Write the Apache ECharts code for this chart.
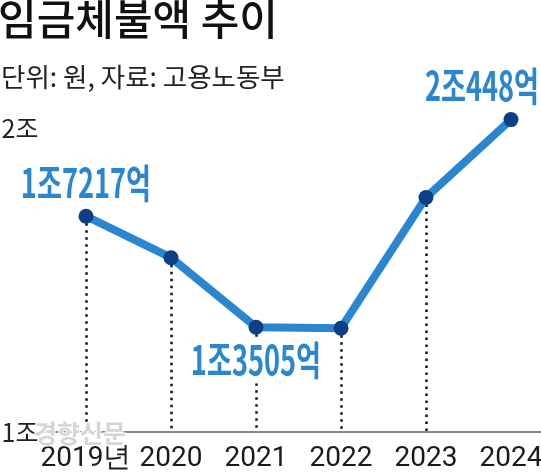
<!DOCTYPE html>
<html>
<head>
<meta charset="utf-8">
<script src="https://cdn.jsdelivr.net/npm/echarts@6/dist/echarts.min.js"></script>
<style>
html,body{margin:0;padding:0;background:#fff;}
#c{width:541px;height:474px;}
</style>
</head>
<body>
<div id="c"></div>
<script>
const years = ['2019', '2020', '2021', '2022', '2023', '2024'];
const xLabels = ['2019년', '2020', '2021', '2022', '2023', '2024'];
const values = [1.7217, 1.583, 1.3505, 1.3472, 1.7845, 2.0448];
const valueLabels = ['1조7217억', '', '1조3505억', '', '', '2조448억'];
const yTickLabels = { 1: '1조', 2: '2조' };

const BLUE = '#2a87cf';
const NAVY = '#0c3f86';
const labelPlacement = { 0: [0, -33], 2: [0, 33], 5: [-29, -34] };

const chart = echarts.init(document.getElementById('c'), null, { renderer: 'canvas' });

const labelData = [];
values.forEach((v, i) => { if (valueLabels[i]) labelData.push([i, v, i]); });

const option = {
  animation: false,
  backgroundColor: '#fff',
  title: [
    {
      text: '임금체불액 추이', left: -2, top: -2, padding: 0,
      textStyle: { fontSize: 42, fontWeight: 500, color: '#111', fontFamily: 'Noto Sans CJK KR' }
    },
    {
      text: '단위: 원, 자료: 고용노동부', left: 1, top: 64, padding: 0,
      textStyle: { fontSize: 26.5, fontWeight: 'normal', color: '#222', fontFamily: 'Noto Sans CJK KR' }
    }
  ],
  grid: { left: 43.5, width: 510, top: 133, bottom: 42, containLabel: false, outerBoundsMode: 'none' },
  xAxis: {
    type: 'category',
    data: xLabels,
    boundaryGap: true,
    axisLine: { lineStyle: { color: '#8a8a8a', width: 2 } },
    axisTick: { show: false },
    axisLabel: { interval: 0, margin: 13, fontSize: 28, color: '#1a1a1a', fontFamily: 'Roboto' },
    splitLine: { show: false }
  },
  yAxis: {
    type: 'value', min: 1, max: 2, interval: 1,
    axisLine: { show: false }, axisTick: { show: false }, splitLine: { show: false },
    axisLabel: {
      formatter: v => v === 2 ? '{top|' + yTickLabels[v] + '}' : (yTickLabels[v] || ''),
      align: 'left', margin: 42,
      fontSize: 25, color: '#222', fontFamily: 'Noto Sans CJK KR',
      rich: { top: { fontSize: 25, color: '#222', fontFamily: 'Noto Sans CJK KR', padding: [0, 0, 10, 0] } }
    }
  },
  graphic: [
    {
      type: 'text', left: 33, top: 420, z: 100,
      style: { text: '경향신문', fontSize: 25, fontWeight: 'bold', fontFamily: 'Noto Sans CJK KR',
               fill: '#d6d6d6', stroke: '#fff', lineWidth: 2 }
    }
  ],
  series: [
    {
      type: 'line',
      data: values,
      z: 2,
      clip: false,
      lineStyle: { color: BLUE, width: 8, join: 'round' },
      symbol: 'circle', symbolSize: 15,
      itemStyle: { color: NAVY },
      label: { show: false },
      markLine: {
        z: 1,
        silent: true,
        symbol: ['none', 'none'],
        label: { show: false },
        lineStyle: { color: '#111', width: 2.5, type: [2.5, 4.5] },
        data: values.map((v, i) => [{ coord: [i, v] }, { coord: [i, 1] }])
      }
    },
    {
      type: 'custom',
      z: 1,
      clip: false,
      data: labelData,
      renderItem: function (params, api) {
        const idx = api.value(2);
        const pt = api.coord([api.value(0), api.value(1)]);
        const off = labelPlacement[idx] || [0, -33];
        return {
          type: 'text',
          x: pt[0] + off[0],
          y: pt[1] + off[1],
          scaleX: 0.68,
          z2: 10,
          style: {
            text: valueLabels[idx],
            fontSize: 40,
            fontWeight: 'bold',
            fontFamily: 'Noto Sans CJK KR',
            fill: BLUE,
            align: 'center',
            verticalAlign: 'middle',
            backgroundColor: off[1] > 0 ? '#fff' : 'transparent',
            padding: [0, 4, 6, 4]
          }
        };
      }
    }
  ]
};
chart.setOption(option);
</script>
</body>
</html>
